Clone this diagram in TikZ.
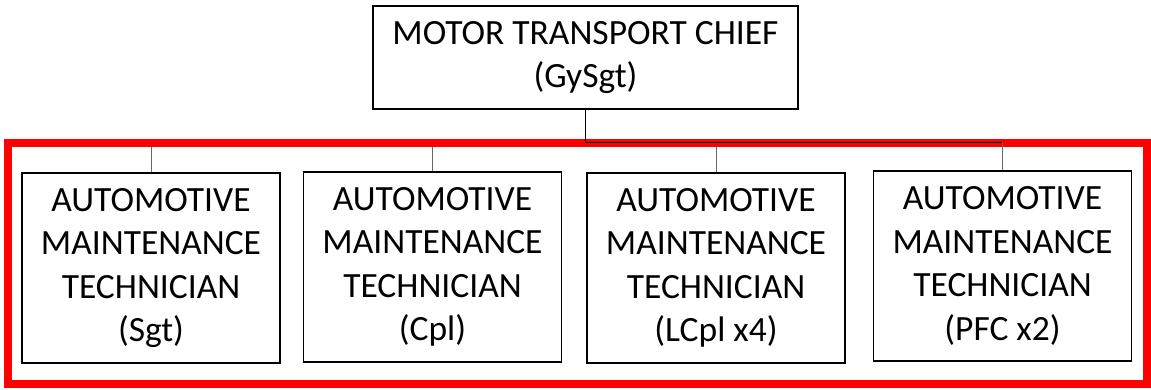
\documentclass[tikz,border=0pt]{standalone}
\usepackage{fontspec}
\setmainfont{Carlito}
\usetikzlibrary{positioning,calc}

\begin{document}
\begin{tikzpicture}[x=1pt,y=-1pt,
         chiefbox/.style = {draw,line width=1.4pt,inner sep=0pt,align=center,
         minimum width=425pt,minimum height=103pt,
         font=\fontsize{35.5}{43}\selectfont},
         techbox/.style = {draw,line width=1.4pt,inner sep=0pt,align=center,
         minimum width=258pt,minimum height=190pt,
         font=\fontsize{35.5}{43.5}\selectfont},
         orgline/.style = {line width=1pt,black},
         dropline/.style = {line width=1pt,black!60},
         redframe/.style = {line width=8pt,red}]

      \useasboundingbox[fill=white] (0,0) rectangle (1151,389);

      % chief
      \node[chiefbox] (chief) at (585.5,57.5) {MOTOR TRANSPORT CHIEF\\(GySgt)};

      % technicians
      \node[techbox] (t1) at (151,268)    {AUTOMOTIVE\\MAINTENANCE\\TECHNICIAN\\(Sgt)};
      \node[techbox] (t2) at (432.5,267)  {AUTOMOTIVE\\MAINTENANCE\\TECHNICIAN\\(Cpl)};
      \node[techbox] (t3) at (716,268)    {AUTOMOTIVE\\MAINTENANCE\\TECHNICIAN\\(LCpl x4)};
      \node[techbox] (t4) at (1002.5,266) {AUTOMOTIVE\\MAINTENANCE\\TECHNICIAN\\(PFC x2)};

      \coordinate (bus) at (587,142);

      % drops to the technicians
      \draw[dropline] (bus -| t1.north) -- (bus -| t4.north);
      \foreach \t in {t1,t2,t3,t4}
         \draw[dropline] (bus -| \t.north) -- (\t.north);

      % highlight round the section
      \draw[redframe] (8,143) rectangle (1147,384);

      % chief to section
      \draw[orgline] (chief.south) |- (bus -| t4.north) -- ++(0,0.5);
      \draw[dropline] (bus -| t4.north) -- (t4.north);

\end{tikzpicture}
\end{document}
